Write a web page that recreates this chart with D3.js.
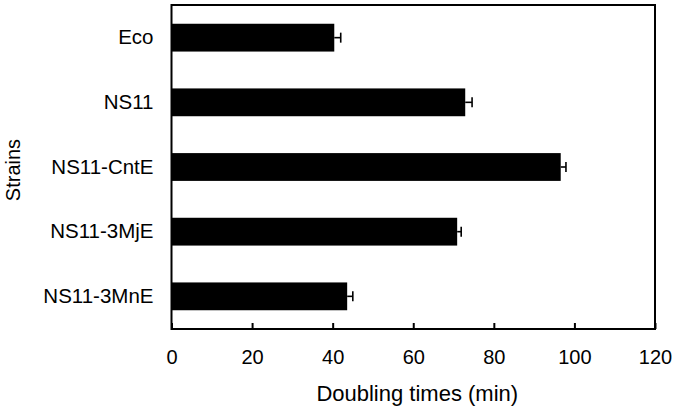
<!DOCTYPE html>
<html><head><meta charset="utf-8">
<script src="https://cdn.jsdelivr.net/npm/d3@7"></script>
<style>body{margin:0;background:#fff;} text{font-family:"Liberation Sans",Arial,sans-serif;fill:#000;}</style>
</head><body><svg id="c" width="675" height="411"></svg>
<script>
const strains = ["Eco","NS11","NS11-CntE","NS11-3MjE","NS11-3MnE"];
const doublingTimes = [40.4, 72.9, 96.6, 70.9, 43.6];
const errors = [1.6, 1.7, 1.3, 1.0, 1.4];
const xTicks = [0,20,40,60,80,100,120];
const xTitle = "Doubling times (min)";
const yTitle = "Strains";

const svg = d3.select("#c");
const m = {l:171.5, r:655, t:5, b:329};
const x = d3.scaleLinear().domain([0,120]).range([m.l, m.r]);
const y = d3.scaleBand().domain(strains).range([m.t, m.b]).paddingInner(0.57).paddingOuter(0.29);

const data = strains.map((s,i)=>({s, v:doublingTimes[i], e:errors[i]}));

svg.selectAll("rect.bar").data(data).enter().append("rect")
  .attr("x", x(0)).attr("y", d=>y(d.s))
  .attr("width", d=>x(d.v)-x(0)).attr("height", y.bandwidth())
  .attr("fill","#000");

// error bars
const eg = svg.append("g").attr("stroke","#000").attr("stroke-width",1.6);
data.forEach(d=>{
  const cy = y(d.s)+y.bandwidth()/2;
  eg.append("line").attr("x1",x(d.v)).attr("x2",x(d.v+d.e)).attr("y1",cy).attr("y2",cy);
  eg.append("line").attr("x1",x(d.v+d.e)).attr("x2",x(d.v+d.e)).attr("y1",cy-5).attr("y2",cy+5);
});

// frame
svg.append("rect").attr("x",m.l).attr("y",m.t).attr("width",m.r-m.l).attr("height",m.b-m.t)
  .attr("fill","none").attr("stroke","#000").attr("stroke-width",2);

// x axis (inner ticks)
const xa = svg.append("g").attr("transform",`translate(0,${m.b})`)
  .call(d3.axisBottom(x).tickValues(xTicks).tickSize(-6).tickPadding(21).tickFormat(d3.format("d")));
xa.select(".domain").remove();
xa.selectAll("line").attr("stroke","#000").attr("stroke-width",2);
xa.selectAll("text").attr("font-size",20).attr("font-family","Liberation Sans, Arial, sans-serif").attr("fill","#000");

// y axis labels
const ya = svg.append("g").attr("transform",`translate(${m.l},0)`)
  .call(d3.axisLeft(y).tickSize(0).tickPadding(18));
ya.select(".domain").remove();
ya.selectAll("text").attr("font-size",20.5).attr("font-family","Liberation Sans, Arial, sans-serif").attr("fill","#000");

svg.append("text").attr("x",(m.l+m.r)/2 + 4).attr("y",401).attr("text-anchor","middle")
  .attr("font-size",22).text(xTitle);
svg.append("text").attr("transform","translate(19.5,170) rotate(-90)").attr("text-anchor","middle")
  .attr("font-size",20).text(yTitle);
</script></body></html>
